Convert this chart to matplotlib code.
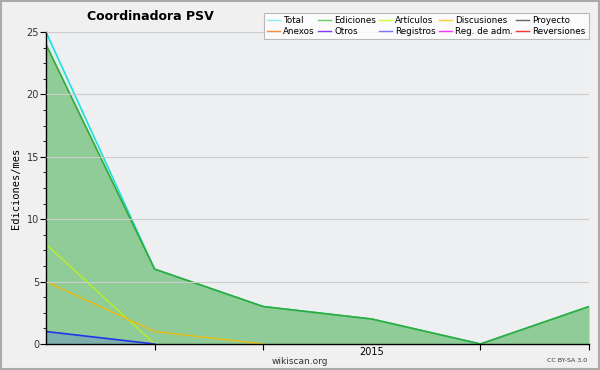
import matplotlib.pyplot as plt
from matplotlib.lines import Line2D
import numpy as np

months = ['2014-10', '2014-11', '2014-12', '2015-01', '2015-02', '2015-03']
total = [25, 6, 3, 2, 0, 3]
ediciones = [24, 6, 3, 2, 0, 3]
articulos = [8, 0]
discusiones = [5, 1, 0]
registros = [1, 0]

legend_names = ['Total', 'Ediciones', 'Artículos', 'Discusiones', 'Proyecto',
                'Anexos', 'Otros', 'Registros', 'Reg. de adm.', 'Reversiones']
legend_colors = ['#88eeee', '#66cc66', '#ccff33', '#ffcc33', '#666666',
                 '#ff8833', '#8833ff', '#7777ff', '#ff33ff', '#ff3333']

x = np.arange(len(months))

fig = plt.figure(figsize=(6, 3.7), dpi=100, facecolor='#f0f0f0')
ax = fig.add_axes([46/600, 26/370, 543/600, 312/370])
ax.set_facecolor('#eeeff1')

# fills
ax.fill_between(x, total, color='#88eeee', alpha=0.15, lw=0)
ax.fill_between(x, ediciones, color='#66bb6a', alpha=0.65, lw=0)
ax.fill_between(x[:len(registros)], registros, color='#3344ff', alpha=0.2, lw=0)

ax.plot(x, total, color='#22dddd', lw=1.2)
ax.plot(x, ediciones, color='#33aa33', lw=1.2)
ax.plot(x[:len(articulos)], articulos, color='#bbee22', lw=1)
ax.plot(x[:len(discusiones)], discusiones, color='#eebb11', lw=1)
ax.plot(x[:len(registros)], registros, color='#2233ee', lw=1.2)

ax.set_xlim(0, len(months) - 1)
ax.set_ylim(0, 25)
ax.set_yticks([0, 5, 10, 15, 20, 25])
ax.set_yticks(np.arange(0, 25, 1.25), minor=True)
ax.grid(axis='y', color='#cccccc', lw=0.8)
ax.set_axisbelow(False)
ax.set_xticks([1, 2, 4, 5])
ax.set_xticklabels([])
ax.set_xticks([3], minor=True)
ax.set_xticklabels(['2015'], minor=True)
ax.tick_params(axis='x', which='minor', length=0, labelsize=7, pad=2)
ax.tick_params(axis='x', which='major', length=4, direction='out')
ax.tick_params(axis='y', which='major', length=4, labelsize=7, pad=1, labelcolor='#333333')
ax.tick_params(axis='y', which='minor', length=2)
for s in ['top', 'right']:
    ax.spines[s].set_visible(False)
ax.spines['left'].set_linewidth(1)
ax.spines['bottom'].set_linewidth(1)

ax.set_ylabel('Ediciones/mes', fontsize=7.5, family='DejaVu Sans Mono', labelpad=4)
fig.text(150/600, 1 - 17/370, 'Coordinadora PSV', fontsize=9, fontweight='bold',
         ha='center', va='center')
fig.text(300/600, 1 - 361/370, 'wikiscan.org', fontsize=6.5, ha='center', va='center',
         color='#333333')
fig.text(587/600, 1 - 361/370, 'CC BY-SA 3.0', fontsize=4.5, ha='right', va='center',
         color='#333333')

# legend fills column by column, so reorder to read row by row
order = [0, 5, 1, 6, 2, 7, 3, 8, 4, 9]
handles = [Line2D([], [], color=legend_colors[i], lw=1) for i in order]
labels = [legend_names[i] for i in order]
leg = fig.legend(handles, labels, ncol=5, loc='upper right',
                 bbox_to_anchor=(593/600, 1 - 9/370), fontsize=6.3,
                 frameon=True, fancybox=False, handlelength=1.5, handletextpad=0.4,
                 columnspacing=0.3, labelspacing=0.15, borderpad=0.35)
leg.get_frame().set_edgecolor('#aaaaaa')
leg.get_frame().set_linewidth(0.8)

# figure border
fig.patches.append(plt.Rectangle((0.002, 0.003), 0.996, 0.994, transform=fig.transFigure,
                                 fill=False, edgecolor='#aaaaaa', lw=1.5))

fig.savefig('out.png', dpi=100, facecolor=fig.get_facecolor())
